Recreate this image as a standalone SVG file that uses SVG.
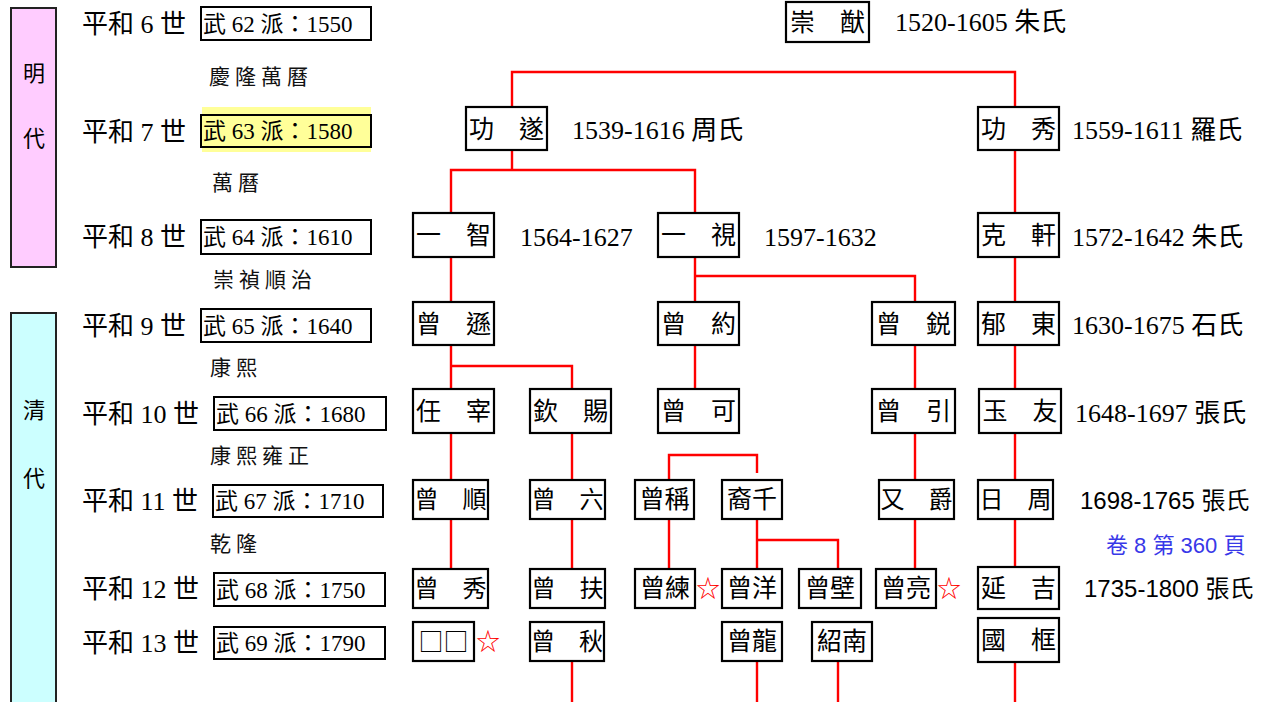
<svg xmlns="http://www.w3.org/2000/svg" width="1265" height="702" viewBox="0 0 1265 702">
<style>
.era{stroke:#222;stroke-width:2}
.eraT{font-family:"Noto Sans CJK TC","Noto Sans CJK SC",sans-serif;font-size:22px;fill:#000;text-anchor:middle}
.gen{font-family:"Liberation Serif","Noto Sans CJK TC",serif;font-size:26px;fill:#000}
.pai{font-family:"Liberation Serif","Noto Sans CJK TC",serif;font-size:23px;fill:#000}
.pbox{fill:none;stroke:#000;stroke-width:2}
.reign{font-family:"Noto Sans CJK TC","Noto Sans CJK SC",sans-serif;font-size:21px;letter-spacing:5px;fill:#111}
.box{fill:#fff;stroke:#000;stroke-width:2.2}
.nm{font-family:"Noto Sans CJK TC","Noto Sans CJK SC",sans-serif;font-size:25px;fill:#000;text-anchor:middle}
.nm24{font-size:24px}
.date{font-family:"Liberation Serif","Noto Sans CJK TC",serif;font-size:26px;fill:#000}
.dates{font-family:"Liberation Sans","Noto Sans CJK TC",sans-serif;font-size:24px;fill:#000}
.note{font-family:"Liberation Sans","Noto Sans CJK TC",sans-serif;font-size:22px;fill:#3838E8}
.star{font-family:"Noto Sans CJK TC","DejaVu Sans",sans-serif;font-size:24px;fill:#FF0000}
.ln{fill:none;stroke:#FF0000;stroke-width:2.4}
</style>

<g id="eras">
<g id="era-ming"><rect class="era" x="11" y="8" width="45" height="259" fill="#FFCCFF"/><text class="eraT" x="34" y="81">明</text><text class="eraT" x="34" y="146">代</text></g>
<g id="era-qing"><rect class="era" x="11" y="313" width="45" height="400" fill="#CCFFFF"/><text class="eraT" x="34" y="418">清</text><text class="eraT" x="34" y="486">代</text></g>
</g>

<g id="generations">
<g id="gen6"><text class="gen" x="82" y="33">平和 6 世</text><rect class="pbox" x="201" y="7" width="170" height="33"/><text class="pai" x="203" y="32">武 62 派：1550</text></g>
<g id="gen7"><rect x="202" y="107" width="169" height="45" fill="#FFFF99"/><text class="gen" x="82" y="141">平和 7 世</text><rect class="pbox" x="201" y="115" width="170" height="32"/><text class="pai" x="203" y="139">武 63 派：1580</text></g>
<g id="gen8"><text class="gen" x="82" y="246">平和 8 世</text><rect class="pbox" x="201" y="220" width="170" height="34"/><text class="pai" x="203" y="245">武 64 派：1610</text></g>
<g id="gen9"><text class="gen" x="82" y="335">平和 9 世</text><rect class="pbox" x="201" y="309" width="170" height="33"/><text class="pai" x="203" y="334">武 65 派：1640</text></g>
<g id="gen10"><text class="gen" x="82" y="423">平和 10 世</text><rect class="pbox" x="214" y="397" width="172" height="33"/><text class="pai" x="216" y="422">武 66 派：1680</text></g>
<g id="gen11"><text class="gen" x="82" y="510">平和 11 世</text><rect class="pbox" x="213" y="485" width="170" height="32"/><text class="pai" x="215" y="509">武 67 派：1710</text></g>
<g id="gen12"><text class="gen" x="82" y="598">平和 12 世</text><rect class="pbox" x="214" y="573" width="171" height="33"/><text class="pai" x="216" y="598">武 68 派：1750</text></g>
<g id="gen13"><text class="gen" x="82" y="652">平和 13 世</text><rect class="pbox" x="214" y="627" width="171" height="32"/><text class="pai" x="216" y="651">武 69 派：1790</text></g>
</g>

<g id="reigns">
<text class="reign" x="209" y="84">慶隆萬曆</text>
<text class="reign" x="212" y="190">萬曆</text>
<text class="reign" x="213" y="287">崇禎順治</text>
<text class="reign" x="210" y="375">康熙</text>
<text class="reign" x="210" y="463">康熙雍正</text>
<text class="reign" x="210" y="551">乾隆</text>
</g>

<g id="connectors">
<path class="ln" d="M512,107 V72 H1015 V107"/>
<path class="ln" d="M512,150 V170 M451,213 V170 H695 V213"/>
<path class="ln" d="M1015,150 V213"/>
<path class="ln" d="M451,257 V302"/>
<path class="ln" d="M695,257 V302 M695,276 H915 V302"/>
<path class="ln" d="M1015,257 V302"/>
<path class="ln" d="M451,345 V389 M451,366 H572 V389"/>
<path class="ln" d="M695,345 V389"/>
<path class="ln" d="M915,345 V389"/>
<path class="ln" d="M1015,345 V389"/>
<path class="ln" d="M451,433 V480"/>
<path class="ln" d="M572,433 V480"/>
<path class="ln" d="M915,433 V480"/>
<path class="ln" d="M1015,433 V480"/>
<path class="ln" d="M669,480 V455 H757 V473"/>
<path class="ln" d="M669,519 V569"/>
<path class="ln" d="M757,519 V569 M757,540 H838 V569"/>
<path class="ln" d="M451,519 V569"/>
<path class="ln" d="M572,519 V569"/>
<path class="ln" d="M915,519 V569"/>
<path class="ln" d="M1015,519 V567"/>
<path class="ln" d="M572,661 V702"/>
<path class="ln" d="M757,661 V702"/>
<path class="ln" d="M838,661 V702"/>
<path class="ln" d="M1015,662 V702"/>
</g>

<g id="nodes">
<g id="n-chongyou"><rect class="box" x="786" y="2" width="83" height="40"/><text class="nm" x="827.5" y="31">崇　猷</text><text class="date" x="895" y="31">1520-1605 朱氏</text></g>
<g id="n-gongsui"><rect class="box" x="466" y="107" width="81" height="43"/><text class="nm" x="506.5" y="138">功　遂</text><text class="date" x="572" y="139">1539-1616 周氏</text></g>
<g id="n-gongxiu"><rect class="box" x="978" y="107" width="81" height="43"/><text class="nm" x="1018.5" y="138">功　秀</text><text class="date" x="1072" y="139">1559-1611 羅氏</text></g>
<g id="n-yizhi"><rect class="box" x="413" y="213" width="81" height="44"/><text class="nm" x="453.5" y="244">一　智</text><text class="date" x="520" y="246">1564-1627</text></g>
<g id="n-yishi"><rect class="box" x="658" y="213" width="81" height="44"/><text class="nm" x="698.5" y="244">一　視</text><text class="date" x="764" y="246">1597-1632</text></g>
<g id="n-kexuan"><rect class="box" x="978" y="213" width="81" height="44"/><text class="nm" x="1018.5" y="244">克　軒</text><text class="date" x="1072" y="246">1572-1642 朱氏</text></g>
<g id="n-zengxun"><rect class="box" x="413" y="302" width="81" height="43"/><text class="nm" x="453.5" y="333">曾　遜</text></g>
<g id="n-zengyue"><rect class="box" x="658" y="302" width="81" height="43"/><text class="nm" x="698.5" y="333">曾　約</text></g>
<g id="n-zengrui"><rect class="box" x="872" y="302" width="83" height="43"/><text class="nm" x="913.5" y="333">曾　鋭</text></g>
<g id="n-yudong"><rect class="box" x="978" y="302" width="81" height="43"/><text class="nm" x="1018.5" y="333">郁　東</text><text class="date" x="1072" y="334">1630-1675 石氏</text></g>
<g id="n-renzai"><rect class="box" x="413" y="389" width="81" height="44"/><text class="nm" x="453.5" y="420">任　宰</text></g>
<g id="n-qinci"><rect class="box" x="530" y="389" width="81" height="44"/><text class="nm" x="570.5" y="420">欽　賜</text></g>
<g id="n-zengke"><rect class="box" x="658" y="389" width="81" height="44"/><text class="nm" x="698.5" y="420">曾　可</text></g>
<g id="n-zengyin"><rect class="box" x="872" y="389" width="83" height="44"/><text class="nm" x="913.5" y="420">曾　引</text></g>
<g id="n-yuyou"><rect class="box" x="979" y="389" width="82" height="44"/><text class="nm" x="1020" y="420">玉　友</text><text class="date" x="1075" y="422">1648-1697 張氏</text></g>
<g id="n-zengshun"><rect class="box" x="413" y="480" width="75" height="39"/><text class="nm nm24" x="450.5" y="508">曾　順</text></g>
<g id="n-zengliu"><rect class="box" x="530" y="480" width="75" height="39"/><text class="nm nm24" x="567.5" y="508">曾　六</text></g>
<g id="n-zengcheng"><rect class="box" x="635" y="480" width="59" height="39"/><text class="nm" x="664.5" y="508">曾稱</text></g>
<g id="n-yiqian"><rect class="box" x="722" y="480" width="60" height="39"/><text class="nm" x="752" y="508">裔千</text></g>
<g id="n-youjue"><rect class="box" x="879" y="480" width="75" height="39"/><text class="nm nm24" x="916.5" y="508">又　爵</text></g>
<g id="n-rizhou"><rect class="box" x="978" y="480" width="75" height="39"/><text class="nm nm24" x="1015.5" y="508">日　周</text><text class="dates" x="1080" y="509">1698-1765 張氏</text></g>
<g id="n-zengxiu"><rect class="box" x="413" y="569" width="75" height="39"/><text class="nm nm24" x="450.5" y="597">曾　秀</text></g>
<g id="n-zengfu"><rect class="box" x="530" y="569" width="75" height="39"/><text class="nm nm24" x="567.5" y="597">曾　扶</text></g>
<g id="n-zenglian"><rect class="box" x="635" y="569" width="60" height="39"/><text class="nm" x="665" y="597">曾練</text><text class="star" x="696" y="597">☆</text></g>
<g id="n-zengyang"><rect class="box" x="722" y="569" width="60" height="39"/><text class="nm" x="752" y="597">曾洋</text></g>
<g id="n-zengbi"><rect class="box" x="799" y="569" width="62" height="39"/><text class="nm" x="830" y="597">曾壁</text></g>
<g id="n-zengliang"><rect class="box" x="876" y="569" width="60" height="39"/><text class="nm" x="906" y="597">曾亮</text><text class="star" x="937" y="597">☆</text></g>
<g id="n-yanji"><rect class="box" x="978" y="567" width="81" height="42"/><text class="nm" x="1018.5" y="597">延　吉</text><text class="dates" x="1084" y="597">1735-1800 張氏</text></g>
<g id="n-unknown"><rect class="box" x="413" y="622" width="61" height="39"/><text class="nm" x="443.5" y="651" fill="#555" font-size="28">□□</text><text class="star" x="476" y="650">☆</text></g>
<g id="n-zengqiu"><rect class="box" x="530" y="622" width="74" height="39"/><text class="nm nm24" x="567" y="650">曾　秋</text></g>
<g id="n-zenglong"><rect class="box" x="722" y="622" width="60" height="39"/><text class="nm" x="752" y="650">曾龍</text></g>
<g id="n-shaonan"><rect class="box" x="812" y="622" width="60" height="39"/><text class="nm" x="842" y="650">紹南</text></g>
<g id="n-guokuang"><rect class="box" x="978" y="618" width="81" height="44"/><text class="nm" x="1018.5" y="649">國　框</text></g>
</g>

<g id="notes">
<text class="note" x="1106" y="553">卷 8 第 360 頁</text>
</g>
</svg>
